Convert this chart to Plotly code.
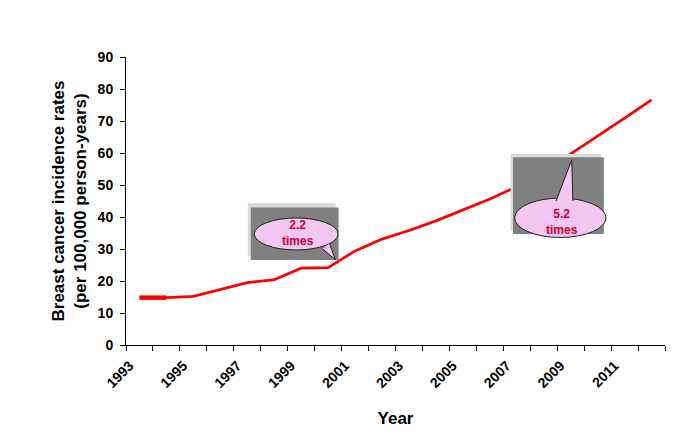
import plotly.graph_objects as go

# breast cancer incidence, per 100,000 person-years
years = [1993, 1994, 1995, 1996, 1997, 1998, 1999, 2000, 2001, 2002,
         2003, 2004, 2005, 2006, 2007, 2008, 2009, 2010, 2011, 2012]
rates = [14.8, 14.8, 15.2, 17.4, 19.5, 20.4, 24.0, 24.2, 29.4, 33.1,
         35.8, 38.8, 42.2, 45.6, 49.5, 54.3, 59.7, 65.2, 70.9, 76.6]
year_labels = ["1993", "1995", "1997", "1999", "2001", "2003", "2005",
               "2007", "2009", "2011"]
label_years = [1993, 1995, 1997, 1999, 2001, 2003, 2005, 2007, 2009, 2011]
y_ticks = [0, 10, 20, 30, 40, 50, 60, 70, 80, 90]

RED = "#ff0000"
PINK = "#f4c6f2"
GREY = "#808080"
SHADOW = "#d9d9d9"
TEXT_RED = "#cc0033"
FONT = "Liberation Sans, Arial, sans-serif"

fig = go.Figure()
fig.add_trace(go.Scatter(x=years, y=rates, mode="lines",
                         line=dict(color=RED, width=2.75), hoverinfo="skip"))
# first segment is drawn heavier in the original
fig.add_trace(go.Scatter(x=years[:2], y=rates[:2], mode="lines",
                         line=dict(color=RED, width=4.5), hoverinfo="skip"))


def callout(box, shadow, ell, tail, label, txt_xy):
    shapes = []
    shapes.append(dict(type="rect", x0=shadow[0], x1=shadow[1], y0=shadow[2], y1=shadow[3],
                       fillcolor=SHADOW, line=dict(width=0), layer="above"))
    shapes.append(dict(type="rect", x0=box[0], x1=box[1], y0=box[2], y1=box[3],
                       fillcolor=GREY, line=dict(width=0), layer="above"))
    shapes.append(dict(type="circle", x0=ell[0], x1=ell[1], y0=ell[2], y1=ell[3],
                       fillcolor=PINK, line=dict(color="#202020", width=1), layer="above"))
    (ax, ay), (tx, ty), (bx, by) = tail
    shapes.append(dict(type="path", path=f"M {ax},{ay} L {tx},{ty} L {bx},{by} Z",
                       fillcolor=PINK, line=dict(width=0), layer="above"))
    shapes.append(dict(type="path", path=f"M {ax},{ay} L {tx},{ty} L {bx},{by}",
                       line=dict(color="#202020", width=1), layer="above"))
    fig.add_annotation(x=txt_xy[0], y=txt_xy[1], text=label, showarrow=False,
                       font=dict(family=FONT, size=12, color=TEXT_RED, weight="bold"))
    return shapes


shapes = []
shapes += callout(box=(1997.13, 2000.39, 26.6, 43.0),
                  shadow=(1997.02, 2000.28, 27.9, 44.3),
                  ell=(1997.26, 2000.37, 29.7, 39.7),
                  tail=((1999.80, 30.0), (2000.27, 26.6), (2000.05, 31.8)),
                  label="2.2<br>times", txt_xy=(1998.89, 35.1))
shapes += callout(box=(2006.86, 2010.23, 34.7, 58.7),
                  shadow=(2006.77, 2010.14, 35.7, 59.7),
                  ell=(2006.92, 2010.31, 33.6, 45.9),
                  tail=((2008.46, 45.0), (2009.04, 57.9), (2009.08, 45.0)),
                  label="5.2<br>times", txt_xy=(2008.67, 38.5))

fig.update_layout(
    width=688, height=448,
    margin=dict(l=118, r=31, t=49, b=111),
    paper_bgcolor="white", plot_bgcolor="white",
    showlegend=False,
    font=dict(family=FONT, color="black"),
    shapes=shapes,
)
fig.update_xaxes(
    range=[1992.5, 2012.5], showgrid=False, zeroline=False,
    showline=True, linecolor="black", linewidth=1, automargin=False,
    tickmode="array", tickvals=label_years, ticktext=year_labels,
    ticks="outside", ticklen=0, tickangle=-45,
    ticklabelstandoff=6, ticklabelshift=-10,
    tickfont=dict(size=14, weight="bold"),
    minor=dict(tickmode="linear", tick0=1992.5, dtick=1, ticks="outside",
               ticklen=5, tickcolor="black", showgrid=False),
    title=dict(text="Year", font=dict(size=17, weight="bold"), standoff=22),
)
fig.update_yaxes(
    range=[0, 90], showgrid=False, zeroline=False,
    showline=True, linecolor="black", linewidth=1, automargin=False,
    tickmode="array", tickvals=y_ticks,
    ticks="outside", ticklen=5, tickcolor="black", ticklabelstandoff=4,
    tickfont=dict(size=14, weight="bold"),
    title=dict(text="Breast cancer incidence rates<br>(per 100,000 person-years)",
               font=dict(size=17, weight="bold"), standoff=6),
)

fig.write_html("out.html")
